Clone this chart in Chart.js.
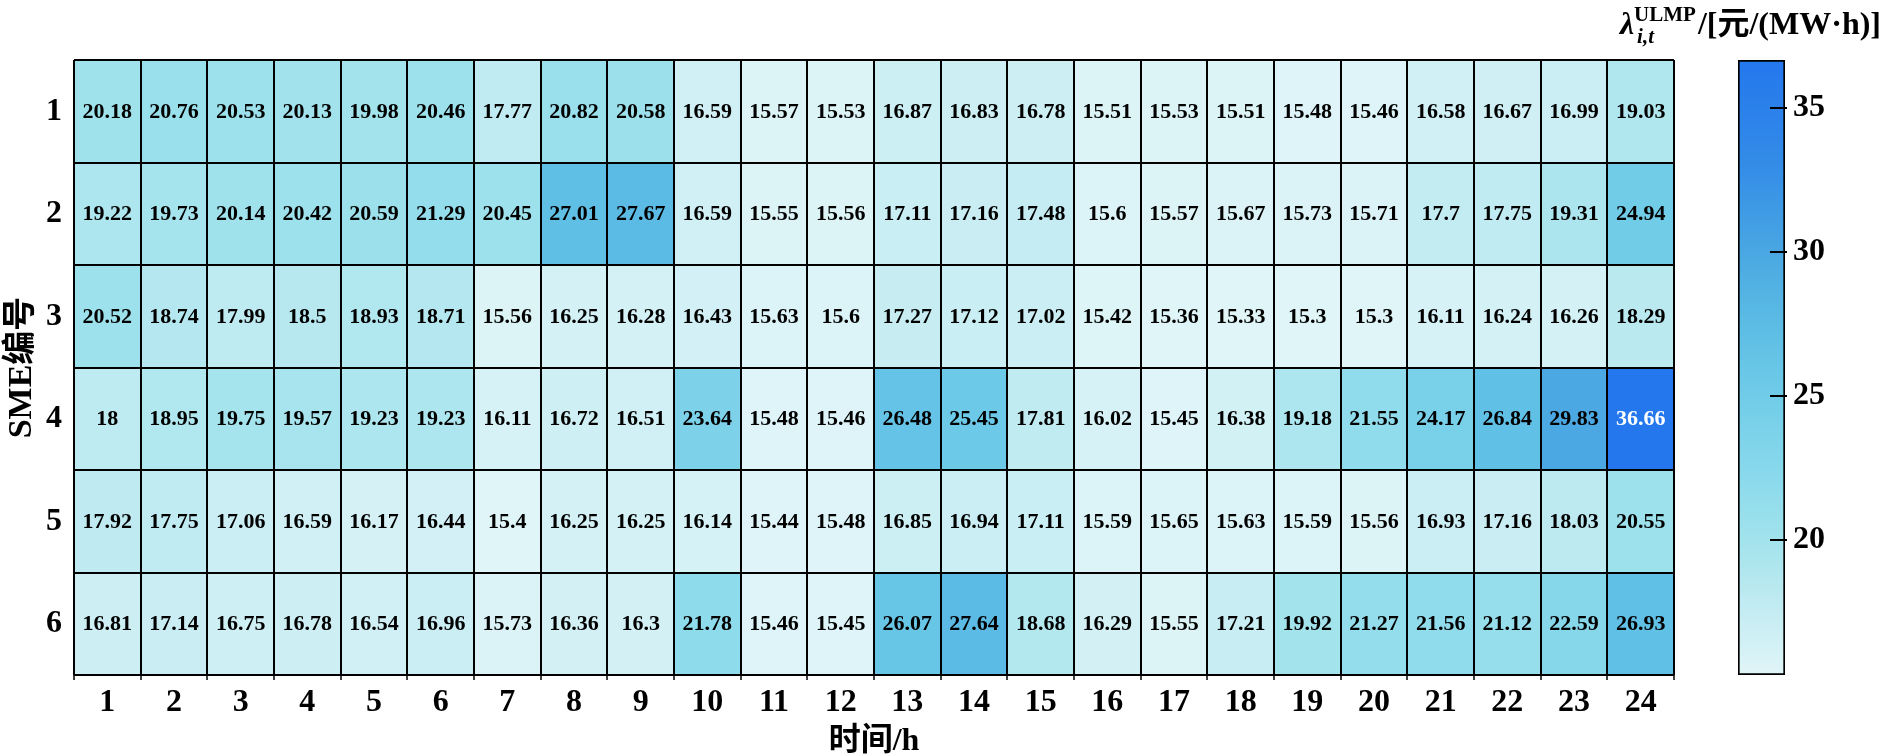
<!DOCTYPE html>
<html>
<head>
<meta charset="utf-8">
<script src="https://cdn.jsdelivr.net/npm/chart.js@4.4.1/dist/chart.umd.min.js"></script>
<style>
  html, body { margin: 0; padding: 0; background: #fff; }
  #wrap { position: relative; width: 1883px; height: 756px; overflow: hidden; }
  #heat { position: absolute; left: 0; top: 0; }
  #bar { position: absolute; left: 1700px; top: 0; }
  #cbTitle {
    position: absolute; right: 2px; top: -3px;
    font: bold 32px 'Liberation Serif', 'Noto Sans CJK SC', serif;
    color: #000; white-space: nowrap;
  }
  #cbTitle .lam { font-style: italic; }
  #cbTitle .ss { display: inline-block; position: relative; font-size: 21px; vertical-align: 13px; margin-right: 2px; }
  #cbTitle .ss .sub { position: absolute; left: 3px; top: 22px; font-style: italic; }
</style>
</head>
<body>
<div id="wrap">
  <canvas id="heat" width="1700" height="756"></canvas>
  <canvas id="bar" width="183" height="756"></canvas>
  <div id="cbTitle"><span class="lam">λ</span><span class="ss"><span>ULMP</span><span class="sub">i,t</span></span>/[元/(MW·h)]</div>
</div>
<script>
// ─── データ ───
const hours = ["1","2","3","4","5","6","7","8","9","10","11","12","13","14","15","16","17","18","19","20","21","22","23","24"];
const smeIds = [1, 2, 3, 4, 5, 6];
const sme1 = [20.18, 20.76, 20.53, 20.13, 19.98, 20.46, 17.77, 20.82, 20.58, 16.59, 15.57, 15.53, 16.87, 16.83, 16.78, 15.51, 15.53, 15.51, 15.48, 15.46, 16.58, 16.67, 16.99, 19.03];
const sme2 = [19.22, 19.73, 20.14, 20.42, 20.59, 21.29, 20.45, 27.01, 27.67, 16.59, 15.55, 15.56, 17.11, 17.16, 17.48, 15.6, 15.57, 15.67, 15.73, 15.71, 17.7, 17.75, 19.31, 24.94];
const sme3 = [20.52, 18.74, 17.99, 18.5, 18.93, 18.71, 15.56, 16.25, 16.28, 16.43, 15.63, 15.6, 17.27, 17.12, 17.02, 15.42, 15.36, 15.33, 15.3, 15.3, 16.11, 16.24, 16.26, 18.29];
const sme4 = [18, 18.95, 19.75, 19.57, 19.23, 19.23, 16.11, 16.72, 16.51, 23.64, 15.48, 15.46, 26.48, 25.45, 17.81, 16.02, 15.45, 16.38, 19.18, 21.55, 24.17, 26.84, 29.83, 36.66];
const sme5 = [17.92, 17.75, 17.06, 16.59, 16.17, 16.44, 15.4, 16.25, 16.25, 16.14, 15.44, 15.48, 16.85, 16.94, 17.11, 15.59, 15.65, 15.63, 15.59, 15.56, 16.93, 17.16, 18.03, 20.55];
const sme6 = [16.81, 17.14, 16.75, 16.78, 16.54, 16.96, 15.73, 16.36, 16.3, 21.78, 15.46, 15.45, 26.07, 27.64, 18.68, 16.29, 15.55, 17.21, 19.92, 21.27, 21.56, 21.12, 22.59, 26.93];
const rows = [sme1, sme2, sme3, sme4, sme5, sme6];
const cbTicks = [20, 25, 30, 35];

const allVals = rows.flat();
const vMin = Math.min(...allVals);
const vMax = Math.max(...allVals);

// ─── カラーマップ (0〜1) ───
const cmapStops = [
  [0.000, [224, 245, 248]],
  [0.126, [190, 234, 241]],
  [0.220, [162, 227, 236]],
  [0.314, [140, 218, 236]],
  [0.454, [112, 204, 232]],
  [0.571, [ 92, 188, 228]],
  [0.688, [ 74, 167, 226]],
  [0.829, [ 52, 140, 231]],
  [1.000, [ 36, 119, 237]]
];

function colorOf(v) {
  const t = (v - vMin) / (vMax - vMin);
  for (let i = 1; i < cmapStops.length; i++) {
    const [t1, c1] = cmapStops[i];
    const [t0, c0] = cmapStops[i - 1];
    if (t <= t1) {
      const k = (t - t0) / (t1 - t0);
      const c = c0.map((a, n) => Math.round(a + (c1[n] - a) * k));
      return `rgb(${c.join(",")})`;
    }
  }
  return `rgb(${cmapStops[cmapStops.length - 1][1].join(",")})`;
}

const serif = "'Liberation Serif', 'Noto Sans CJK SC', serif";

// ─── セル内の数値 ───
const cellText = {
  id: "cellText",
  afterDatasetsDraw(chart) {
    const ctx = chart.ctx;
    ctx.save();
    ctx.font = `bold 22px ${serif}`;
    ctx.textAlign = "center";
    ctx.textBaseline = "middle";
    chart.data.datasets.forEach((ds, i) => {
      chart.getDatasetMeta(i).data.forEach((bar, j) => {
        const v = rows[i][j];
        ctx.fillStyle = v > 33 ? "#fff" : "#000";
        ctx.fillText(String(v), bar.x, (bar.y + bar.base) / 2 + 1);
      });
    });
    ctx.restore();
  }
};

// ─── ヒートマップ ───
const rowEdges = [smeIds[0] - 0.5, ...smeIds.map(v => v + 0.5)];

new Chart(document.getElementById("heat"), {
  type: "bar",
  data: {
    labels: hours,
    datasets: rows.map((vals, i) => ({
      label: "SME" + smeIds[i],
      data: vals.map(() => [smeIds[i] - 0.5, smeIds[i] + 0.5]),
      backgroundColor: vals.map(colorOf),
      borderWidth: 0,
      grouped: false,
      barPercentage: 1,
      categoryPercentage: 1
    }))
  },
  options: {
    responsive: false,
    animation: false,
    layout: { padding: { top: 60, right: 26, left: 0, bottom: 0 } },
    plugins: { legend: { display: false }, tooltip: { enabled: false } },
    scales: {
      x: {
        grid: { z: 1, color: "#000", lineWidth: 2, offset: true, tickLength: 5, tickColor: "#000", tickWidth: 1.5 },
        border: { display: false },
        ticks: { color: "#000", font: { family: serif, size: 32, weight: "bold" }, padding: 4, maxRotation: 0, autoSkip: false },
        title: { display: true, text: "时间/h", color: "#000", font: { family: serif, size: 32, weight: "bold" }, padding: { top: 0, bottom: -5 } },
        afterFit: s => { s.height = 81; }
      },
      y: {
        min: 0.5, max: 6.5, reverse: true,
        grid: { display: false, drawTicks: false },
        border: { display: false },
        afterBuildTicks: s => { s.ticks = smeIds.map(v => ({ value: v })); },
        ticks: { color: "#000", font: { family: serif, size: 32, weight: "bold" }, padding: 12 },
        title: { display: true, text: "SME编号", color: "#000", font: { family: serif, size: 34, weight: "bold" }, padding: { top: 2, bottom: 0 } },
        afterFit: s => { s.width = 74; }
      },
      yGrid: {
        type: "linear", position: "left", min: 0.5, max: 6.5, reverse: true,
        afterBuildTicks: s => { s.ticks = rowEdges.map(v => ({ value: v })); },
        grid: { z: 1, color: "#000", lineWidth: 2, drawTicks: false },
        border: { display: false },
        ticks: { display: false },
        afterFit: s => { s.width = 0; }
      }
    }
  },
  plugins: [cellText]
});

// ─── カラーバー ───
function cbGradient(chart) {
  if (!chart.chartArea) return null;
  const y = chart.scales.y;
  const g = chart.ctx.createLinearGradient(0, y.getPixelForValue(vMin), 0, y.getPixelForValue(vMax));
  cmapStops.forEach(([t, c]) => g.addColorStop(t, `rgb(${c.join(",")})`));
  return g;
}

const cbTickMarks = {
  id: "cbTickMarks",
  afterDatasetsDraw(chart) {
    const ctx = chart.ctx;
    const area = chart.chartArea;
    const y = chart.scales.y;
    ctx.save();
    ctx.strokeStyle = "#000";
    ctx.lineWidth = 2;
    cbTicks.forEach(v => {
      const py = Math.round(y.getPixelForValue(v));
      ctx.beginPath();
      ctx.moveTo(area.right - 15, py);
      ctx.lineTo(area.right + 2, py);
      ctx.stroke();
    });
    ctx.restore();
  }
};

new Chart(document.getElementById("bar"), {
  type: "bar",
  data: {
    labels: [""],
    datasets: [{
      data: [[vMin, vMax]],
      backgroundColor: ctx => cbGradient(ctx.chart),
      borderColor: "#000",
      borderWidth: 2,
      borderSkipped: false,
      barPercentage: 1,
      categoryPercentage: 1
    }]
  },
  options: {
    responsive: false,
    animation: false,
    layout: { padding: { top: 60, bottom: 81, left: 38, right: 0 } },
    plugins: { legend: { display: false }, tooltip: { enabled: false } },
    scales: {
      x: { display: false },
      y: {
        position: "right", min: vMin, max: vMax,
        afterBuildTicks: s => { s.ticks = cbTicks.map(v => ({ value: v })); },
        grid: { display: false, drawTicks: false },
        border: { display: false },
        ticks: { color: "#000", font: { family: serif, size: 32, weight: "bold" }, padding: 8 },
        afterFit: s => { s.width = 98; }
      }
    }
  },
  plugins: [cbTickMarks]
});
</script>
</body>
</html>
